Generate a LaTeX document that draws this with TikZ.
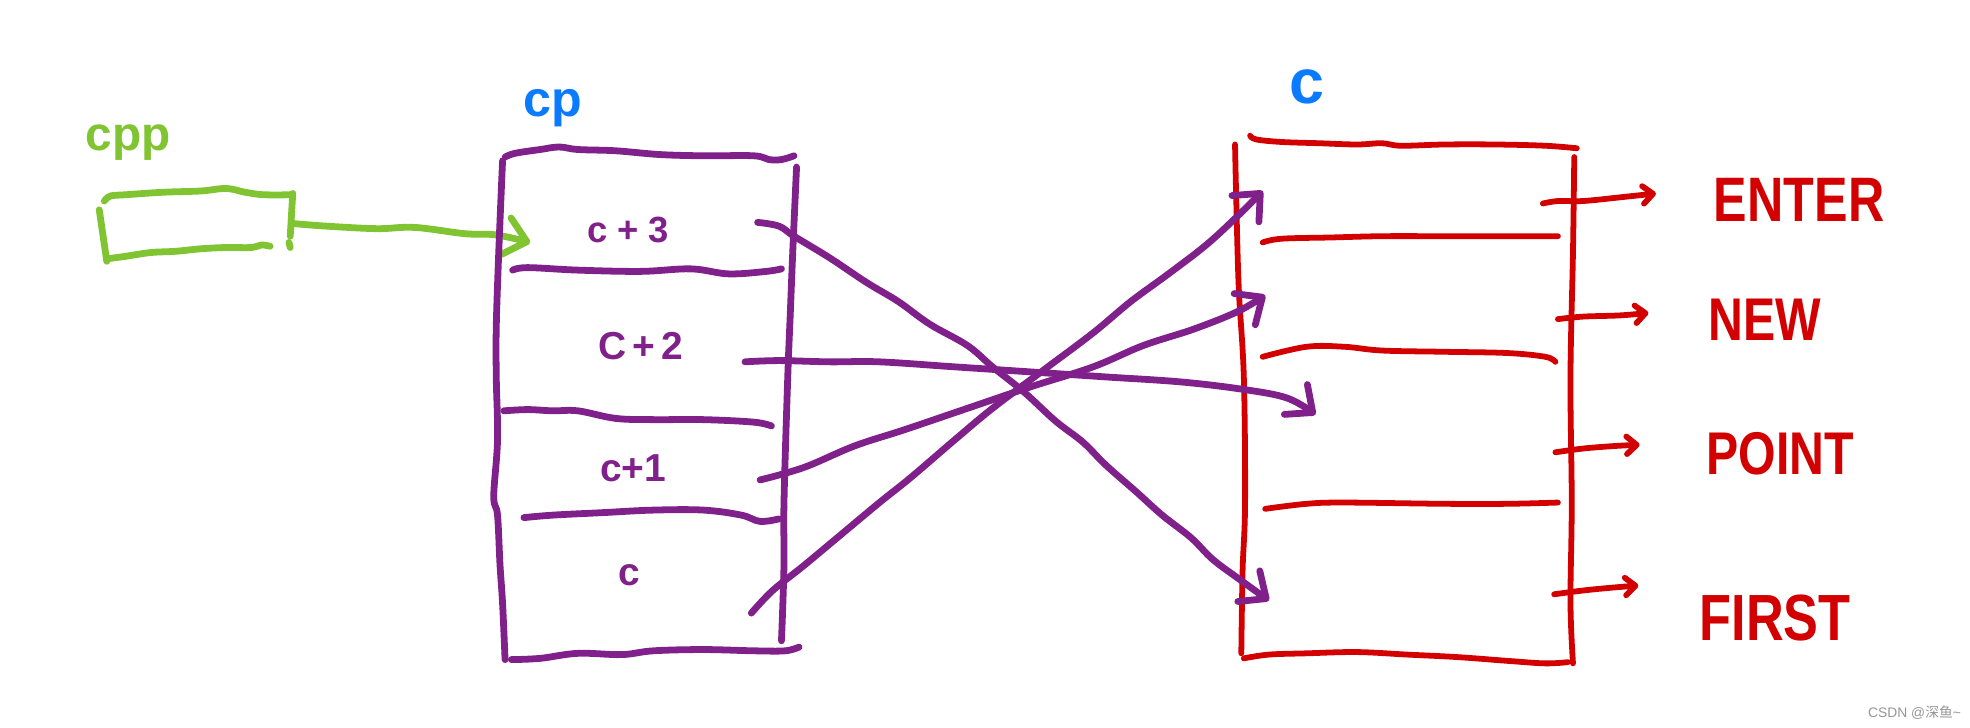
\documentclass[tikz,border=0pt]{standalone}
\usepackage{fontspec}
\setmainfont{Liberation Sans}
\newfontfamily\capsfont[FakeStretch=0.8]{Liberation Sans}
\newfontfamily\cjkfont{Noto Sans CJK SC}
\usetikzlibrary{arrows.meta}
\definecolor{hgreen}{RGB}{128,196,50}
\definecolor{hpurple}{RGB}{128,32,138}
\definecolor{hred}{RGB}{210,0,0}
\definecolor{hblue}{RGB}{10,122,255}
\definecolor{wmgray}{RGB}{150,150,150}
\begin{document}
\begin{tikzpicture}[x=1pt,y=-1pt,
  stroke/.style={line width=5.4pt,line cap=round,line join=round},
  gline/.style={stroke,draw=hgreen},
  pline/.style={stroke,draw=hpurple},
  rline/.style={stroke,draw=hred,line width=4.6pt},
  bigtip/.style={-{Straight Barb[length=17pt,width=30pt,round]}},
  smalltip/.style={-{Straight Barb[length=8pt,width=14pt,round]}},
  fsz/.style={font=\bfseries\fontsize{#1}{#1}\selectfont},
  capsz/.style={font=\capsfont\bfseries\fontsize{#1}{#1}\selectfont},
  lbl/.style={anchor=base,inner sep=0pt}]
\fill[white] (0,0) rectangle (1568,579);
\useasboundingbox (0,0) rectangle (1568,579);

% ---------- labels ----------
\node[lbl,fsz=38,text=hgreen] (cpp) at (102,120) {cpp};
\node[lbl,fsz=40,text=hblue] (cp) at (440,93) {cp};
\node[lbl,fsz=50,text=hblue] (cc) at (1040,82) {c};
\node[lbl,fsz=29,text=hpurple] (l3) at (500,193) {c + 3};
\node[lbl,fsz=31,text=hpurple] (l2) at (510,286) {C\,+\,2};
\node[lbl,fsz=31,text=hpurple] (l1) at (504,383) {c+1};
\node[lbl,fsz=31,text=hpurple] (l0) at (501,466) {c};
\node[lbl,capsz=50,text=hred] (enter) at (1432,176) {ENTER};
\node[lbl,capsz=48,text=hred] (new) at (1405,271) {NEW};
\node[lbl,capsz=48,text=hred] (point) at (1417,378) {POINT};
\node[lbl,capsz=52,text=hred] (first) at (1413,510) {FIRST};
\node[anchor=base east,inner sep=0pt,font=\fontsize{11}{11}\selectfont,text=wmgray] (wm) at (1561,571) {CSDN @{\cjkfont 深鱼}\textasciitilde};

% ---------- green box ----------
\draw[gline] plot[smooth,tension=0.6] coordinates {(83,160) (88,156) (100,155) (130,153) (160,152) (180,150) (195,153) (210,155) (233,155)};
\draw[gline] (233,154) -- (231,188);
\draw[gline] (230,193) -- (231,197);
\draw[gline] (79,167) -- (85,208);
\draw[gline] plot[smooth,tension=0.6] coordinates {(85,206) (100,204) (120,201) (140,200) (160,198) (180,197) (200,197) (208,195) (215,196)};
\coordinate (g0) at (234,178);
\coordinate (g1) at (422,193);
\draw[gline,bigtip] plot[smooth,tension=0.6] coordinates {(g0) (260,180) (300,182) (330,181) (370,186) (395,187) (g1)};

% ---------- cp box ----------
\draw[pline] plot[smooth,tension=0.6] coordinates {(402,125) (410,122) (430,119) (445,117) (460,119) (490,120) (525,123) (560,124) (600,124) (612,127) (622,127) (632,124)};
\draw[pline] plot[smooth,tension=0.6] coordinates {(400,128) (397,200) (395,260) (395,300) (396,350) (393,395) (396,410) (398,450) (400,480) (402,525)};
\draw[pline] plot[smooth,tension=0.6] coordinates {(634,133) (631,200) (629,250) (627,300) (624,400) (624,450) (622,510)};
\draw[pline] plot[smooth,tension=0.6] coordinates {(407,525) (430,524) (460,520) (495,521) (520,518) (560,517) (600,518) (625,518) (636,515)};
\draw[pline] plot[smooth,tension=0.6] coordinates {(408,215) (420,213) (460,215) (510,216) (550,214) (580,218) (610,216) (622,214)};
\draw[pline] plot[smooth,tension=0.6] coordinates {(401,327) (420,326) (440,327) (460,327) (490,333) (520,334) (560,334) (600,336) (614,339)};
\draw[pline] plot[smooth,tension=0.6] coordinates {(417,412) (440,410) (480,408) (520,406) (560,406) (590,410) (605,415) (620,413)};

% ---------- c box ----------
\draw[rline] plot[smooth,tension=0.6] coordinates {(995,108) (1000,111) (1020,113) (1050,114) (1080,115) (1100,114) (1115,116) (1150,115) (1190,115) (1230,116) (1255,118)};
\draw[rline] plot[smooth,tension=0.6] coordinates {(983,115) (984,160) (986,230) (990,300) (991,400) (989,455) (988,520)};
\draw[rline] plot[smooth,tension=0.6] coordinates {(1253,125) (1252,200) (1250,300) (1251,400) (1250,480) (1252,528)};
\draw[rline] plot[smooth,tension=0.6] coordinates {(1005,193) (1020,190) (1060,189) (1100,188) (1150,188) (1200,188) (1240,188)};
\draw[rline] plot[smooth,tension=0.6] coordinates {(1005,284) (1040,276) (1070,276) (1100,279) (1150,280) (1200,281) (1230,284) (1238,288)};
\draw[rline] plot[smooth,tension=0.6] coordinates {(1007,405) (1040,401) (1070,400) (1150,401) (1200,401) (1240,400)};
\draw[rline] plot[smooth,tension=0.6] coordinates {(990,524) (1010,521) (1040,520) (1080,519) (1120,521) (1160,523) (1200,526) (1230,528) (1248,527)};

% ---------- red pointer arrows ----------
\coordinate (e0) at (1228,162);
\coordinate (n0) at (1240,254);
\coordinate (p0) at (1238,360);
\coordinate (f0) at (1237,473);
\draw[rline,smalltip] plot[smooth,tension=0.6] coordinates {(e0) (1240,160) (1260,160) (1290,157) (1318,154)};
\draw[rline,smalltip] plot[smooth,tension=0.6] coordinates {(n0) (1260,252) (1290,251) (1312,249)};
\draw[rline,smalltip] plot[smooth,tension=0.6] coordinates {(p0) (1260,357) (1285,355) (1305,354)};
\draw[rline,smalltip] plot[smooth,tension=0.6] coordinates {(f0) (1260,470) (1280,468) (1304,466)};

% ---------- purple pointer arrows ----------
\coordinate (a3) at (603,177);
\coordinate (a2) at (593,288);
\coordinate (a1) at (605,382);
\coordinate (a0) at (598,488);
\draw[pline,bigtip] plot[smooth,tension=0.6] coordinates {(a3) (620,180) (632,188) (660,205) (690,225) (715,240) (740,258) (770,275) (790,292) (815,312) (840,335) (862,352) (880,370) (905,392) (925,410) (948,428) (965,445) (985,460) (1010,478)};
\draw[pline,bigtip] plot[smooth,tension=0.6] coordinates {(a2) (620,287) (660,288) (700,288) (760,292) (820,296) (880,300) (940,304) (990,310) (1025,317) (1047,330)};
\draw[pline,bigtip] plot[smooth,tension=0.6] coordinates {(a1) (640,372) (680,355) (720,342) (770,325) (820,308) (870,292) (910,275) (950,262) (985,248) (1007,235)};
\draw[pline,bigtip] plot[smooth,tension=0.6] coordinates {(a0) (615,470) (640,450) (670,425) (700,400) (725,380) (760,350) (790,325) (830,295) (870,265) (900,240) (930,218) (960,195) (985,172) (1005,152)};
\end{tikzpicture}
\end{document}
